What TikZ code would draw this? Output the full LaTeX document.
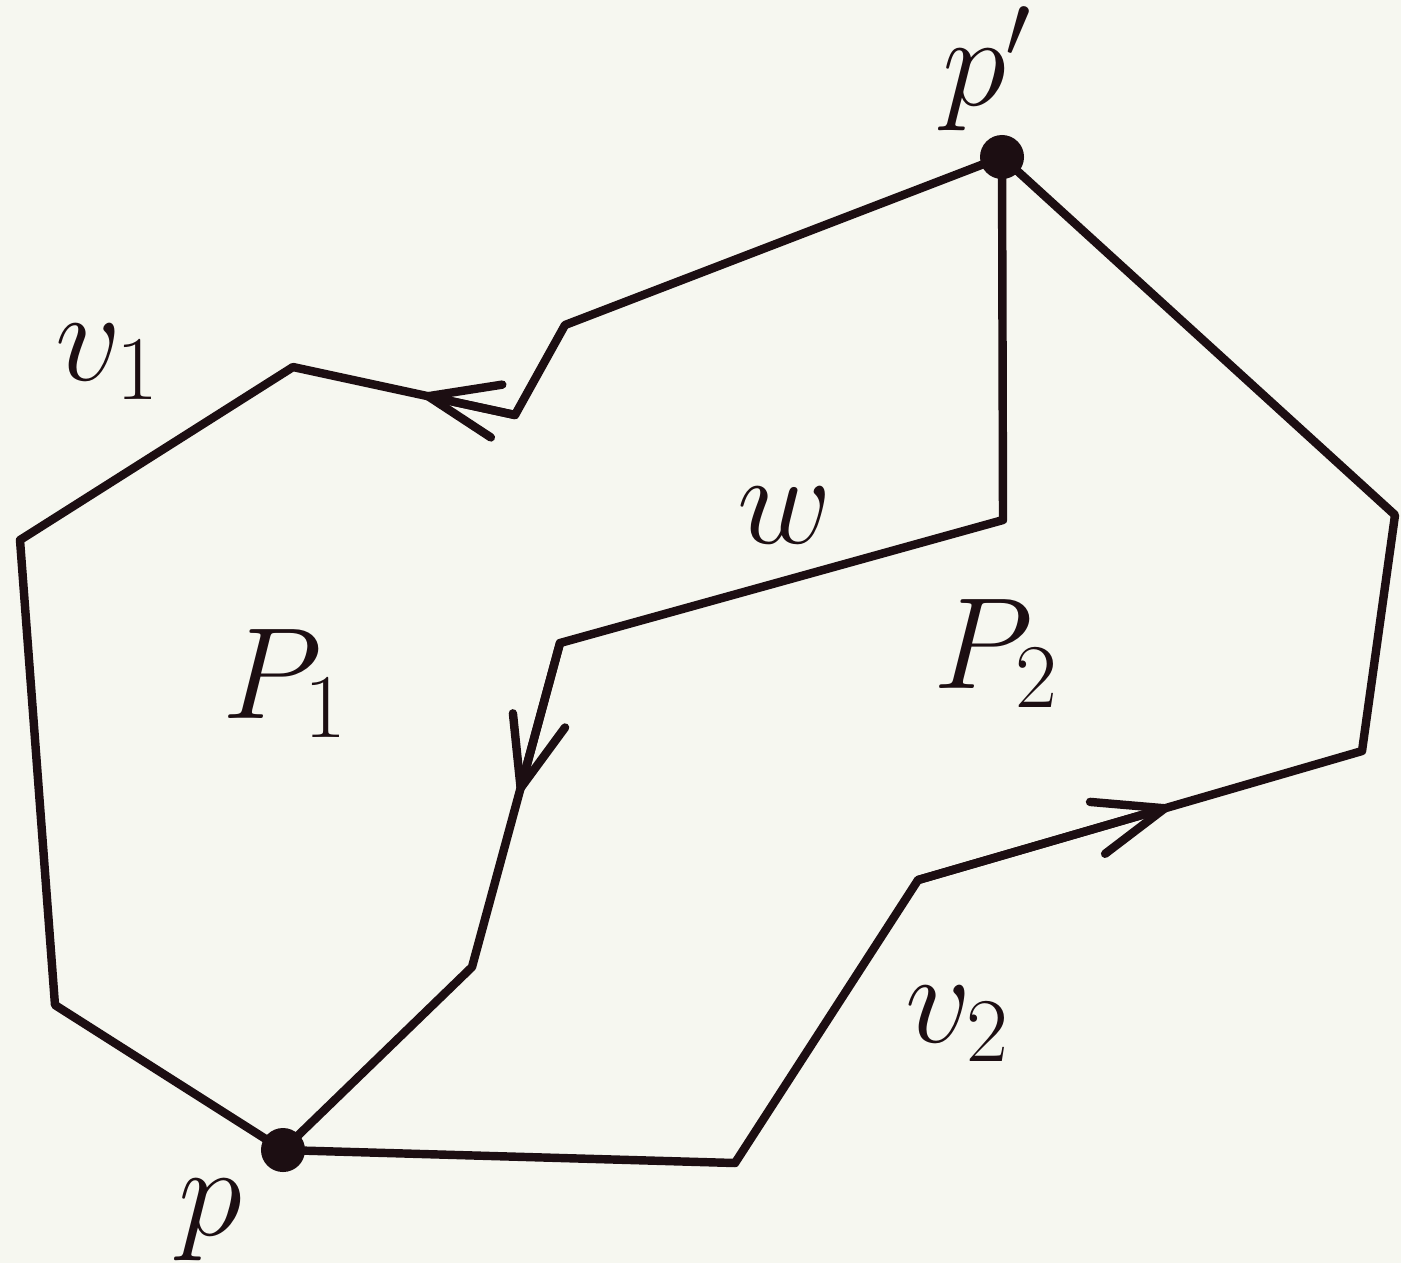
\RequirePackage{fix-cm}
\documentclass[tikz,border=0pt]{standalone}
\usetikzlibrary{arrows.meta,calc}
\definecolor{paper}{RGB}{246,247,240}
\definecolor{ink}{RGB}{28,14,18}
\tikzset{
  edge/.style={draw=ink,line width=2.4pt,line join=round,line cap=round},
  dir/.style={draw=ink,line width=2.4pt,line cap=round,-{Straight Barb[length=7mm,width=5.4mm,round]}},
  lbl/.style={inner sep=0pt,outer sep=0pt,anchor=base west,text=ink,font=\fontsize{37}{44}\selectfont},
  vdot/.style={circle,fill=ink,minimum size=4.4mm,inner sep=0pt}
}
\begin{document}
\begin{tikzpicture}[x=0.01cm,y=-0.01cm]
\fill[paper] (0,0) rectangle (1401,1263);
\useasboundingbox (0,0) rectangle (1401,1263);
% vertices
\coordinate (pp) at (1002,157);
\coordinate (p)  at (283,1150);
\coordinate (A1) at (565,325);
\coordinate (A2) at (515,415);
\coordinate (A3) at (293,367);
\coordinate (A4) at (20,540);
\coordinate (A5) at (55,1005);
\coordinate (B1) at (1003,520);
\coordinate (B2) at (560,643);
\coordinate (B3) at (472,967);
\coordinate (C1) at (735,1163);
\coordinate (C2) at (918,880);
\coordinate (C3) at (1362,751);
\coordinate (C4) at (1395,515);
% arrow tips
\coordinate (T1) at ($(A2)!0.41!(A3)$);
\coordinate (T2) at ($(B2)!0.46!(B3)$);
\coordinate (T3) at ($(C2)!0.565!(C3)$);
% paths
\draw[edge] (pp) -- (A1) -- (A2) -- (A3) -- (A4) -- (A5) -- (p);
\draw[edge] (pp) -- (B1) -- (B2) -- (B3) -- (p);
\draw[edge] (p) -- (C1) -- (C2) -- (C3) -- (C4) -- (pp);
\draw[dir] (A2) -- (T1);
\draw[dir] (B2) -- (T2);
\draw[dir] (C2) -- (T3);
% vertices marked
\node[vdot] (np) at (p) {};
\node[vdot] (npp) at (pp) {};
% labels
\node[lbl] (lp)  at (178,1235) {$p$};
\node[lbl] (lpp) at (942,105) {$p'$};
\node[lbl] (lv1) at (55,380) {$v_1$};
\node[lbl] (lv2) at (905,1042) {$v_2$};
\node[lbl] (lw)  at (737,543) {$w$};
\node[lbl] (lP1) at (222,718) {$P_1$};
\node[lbl] (lP2) at (933,688) {$P_2$};
\end{tikzpicture}
\end{document}
